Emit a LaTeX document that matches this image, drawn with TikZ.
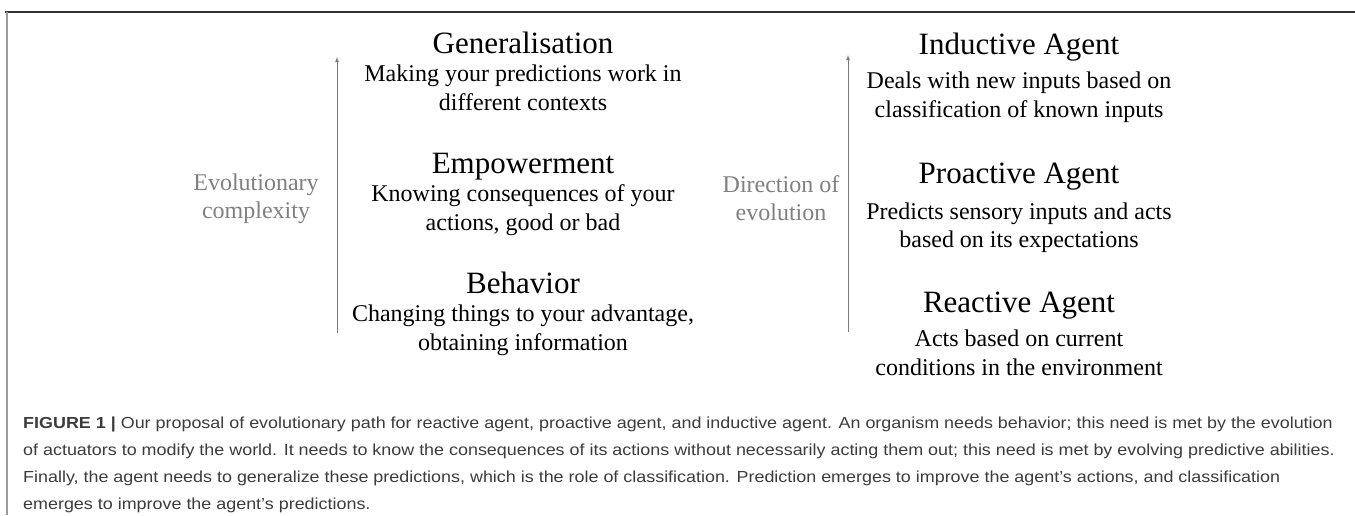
\documentclass[tikz,border=0pt]{standalone}
\usepackage{fontspec}
\setmainfont{Liberation Serif}
\newfontfamily\capfont[FakeStretch=1.12]{Liberation Sans}
\usepackage{xcolor}
\usepackage{tikz}
\usetikzlibrary{arrows}
\usetikzlibrary{positioning}

\definecolor{sidegray}{HTML}{808080}
\definecolor{arrowgray}{HTML}{7A7A7A}
\definecolor{framegray}{HTML}{9C9C9C}
\definecolor{capgray}{HTML}{3C3C3C}

\begin{document}
\begin{tikzpicture}
[
	x = 1pt, y = -1pt,
	stage/.style	= {font = \fontsize{31}{36}\selectfont, inner sep = 0pt, text depth = 0pt, anchor = base},
	what/.style	= {font = \fontsize{24}{28.5}\selectfont, align = center, inner sep = 0pt},
	side/.style	= {what, text = sidegray},
	evo/.style	= {-latex, draw = arrowgray, line width = 0.8pt},
	caption/.style	= {font = \capfont\fontsize{16}{27}\selectfont, text = capgray, align = left, inner sep = 0pt, anchor = north west},
]

	\useasboundingbox (0,0) rectangle (1355,515);

	% frame
	\draw [line width = 1.3pt, black!80] (5,12) -- (1355,12);
	\draw [line width = 2pt, framegray] (7,12) -- (7,515);

	% left column
	\node (gen) [stage] at (523,53) {Generalisation};
	\node (genText) [what, below = 11.5pt of gen] {Making your predictions work in\\different contexts};
	%
	\node (emp) [stage] at (523,173) {Empowerment};
	\node (empText) [what, below = 11.5pt of emp] {Knowing consequences of your\\actions, good or bad};
	%
	\node (beh) [stage] at (523,293) {Behavior};
	\node (behText) [what, below = 11.5pt of beh] {Changing things to your advantage,\\obtaining information};

	\node (evoLabel) [side] at (256,199) {Evolutionary\\complexity};
	\coordinate (evoLow) at (337,333);
	\coordinate (evoHigh) at (337,57);
	\draw [evo] (evoLow) -- (evoHigh);

	% right column
	\node (ind) [stage] at (1019,54) {Inductive Agent};
	\node (indText) [what, below = 17.5pt of ind] {Deals with new inputs based on\\classification of known inputs};
	%
	\node (pro) [stage] at (1019,183) {Proactive Agent};
	\node (proText) [what, below = 19pt of pro] {Predicts sensory inputs and acts\\based on its expectations};
	%
	\node (rea) [stage] at (1019,312) {Reactive Agent};
	\node (reaText) [what, below = 17.5pt of rea] {Acts based on current\\conditions in the environment};

	\node (dirLabel) [side] at (781,198) {Direction of\\evolution};
	\coordinate (dirLow) at (848,332);
	\coordinate (dirHigh) at (848,55);
	\draw [evo] (dirLow) -- (dirHigh);

	% caption
	\node (figCaption) [caption] at (23,417) {\textbf{FIGURE 1 |} Our proposal of evolutionary path for reactive agent, proactive agent, and inductive agent. An organism needs behavior; this need is met by the evolution\\of actuators to modify the world. It needs to know the consequences of its actions without necessarily acting them out; this need is met by evolving predictive abilities.\\Finally, the agent needs to generalize these predictions, which is the role of classification. Prediction emerges to improve the agent’s actions, and classification\\emerges to improve the agent’s predictions.};

\end{tikzpicture}
\end{document}
